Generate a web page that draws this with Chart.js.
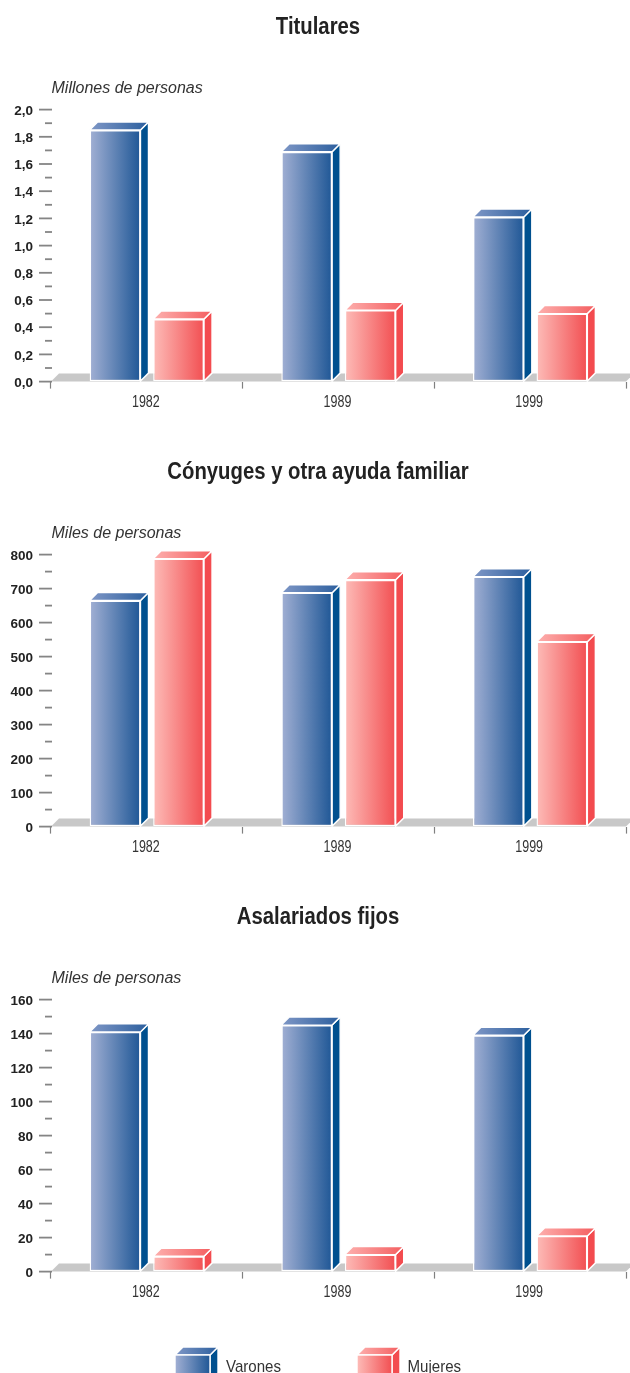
<!DOCTYPE html>
<html lang="es">
<head>
<meta charset="utf-8">
<title>Titulares, cónyuges y asalariados</title>
<style>
html,body{margin:0;padding:0;background:#fff;overflow:hidden;width:630px;height:1373px}
.p{position:absolute;left:0;display:block}
</style>
<script src="https://cdn.jsdelivr.net/npm/chart.js@4/dist/chart.umd.min.js"></script>
</head>
<body>
<canvas class="p" id="c1" width="630" height="445" style="top:0;width:630px;height:445px"></canvas>
<canvas class="p" id="c2" width="630" height="445" style="top:445px;width:630px;height:445px"></canvas>
<canvas class="p" id="c3" width="630" height="483" style="top:890px;width:630px;height:483px"></canvas>
<script>
const categories = ['1982', '1989', '1999'];
const seriesNames = ['Varones', 'Mujeres'];

const titularesVarones = [1.85, 1.69, 1.21];
const titularesMujeres = [0.46, 0.525, 0.50];
const conyugesVarones = [665, 688, 735];
const conyugesMujeres = [788, 726, 544];
const asalariadosVarones = [141, 145, 139];
const asalariadosMujeres = [9, 10, 21];

const DX = 8, DY = 8;
const CAT_PCT = 0.663, BAR_PCT = 0.8;
const FONT = '"Liberation Sans", Arial, sans-serif';
const blue = {front: ['#a2b0d4', '#1f5796'], top: ['#7f97c6', '#2c5f9e'], side: '#00508f'};
const red  = {front: ['#fdbcb8', '#f24f52'], top: ['#fdb0ae', '#f45e60'], side: '#f34b4f'};
const palette = [blue, red];

function gradientFor(ctx, x0, x1, stops) {
  const g = ctx.createLinearGradient(x0, 0, x1, 0);
  g.addColorStop(0, stops[0]);
  g.addColorStop(1, stops[1]);
  return g;
}

function poly(ctx, pts, fill) {
  ctx.beginPath();
  pts.forEach((p, i) => i ? ctx.lineTo(p[0], p[1]) : ctx.moveTo(p[0], p[1]));
  ctx.closePath();
  ctx.fillStyle = fill;
  ctx.fill();
  ctx.strokeStyle = '#fff';
  ctx.lineWidth = 1.4;
  ctx.stroke();
}

function box3d(ctx, l, r, top, base, pal) {
  poly(ctx, [[r, top], [r + DX, top - DY], [r + DX, base - DY], [r, base]], pal.side);
  poly(ctx, [[l, top], [l + DX, top - DY], [r + DX, top - DY], [r, top]], gradientFor(ctx, l, r + DX, pal.top));
}

function narrowText(ctx, text, x, y, font, sx, align, color) {
  ctx.save();
  ctx.translate(x, y);
  ctx.scale(sx, 1);
  ctx.font = font;
  ctx.fillStyle = color;
  ctx.textAlign = align;
  ctx.textBaseline = 'alphabetic';
  ctx.fillText(text, 0, 0);
  ctx.restore();
}

const depthPlugin = {
  id: 'depth',
  beforeDatasetsDraw(chart) {
    const ctx = chart.ctx, a = chart.chartArea, y0 = chart.scales.y.getPixelForValue(0);
    ctx.save();
    ctx.fillStyle = '#c8c8c8';
    ctx.beginPath();
    ctx.moveTo(a.left, y0);
    ctx.lineTo(a.left + DX, y0 - DY);
    ctx.lineTo(a.right + DX, y0 - DY);
    ctx.lineTo(a.right, y0);
    ctx.closePath();
    ctx.fill();
    chart.data.datasets.forEach((d, di) => {
      chart.getDatasetMeta(di).data.forEach(b => {
        box3d(ctx, b.x - b.width / 2, b.x + b.width / 2, b.y, b.base, palette[di]);
      });
    });
    ctx.restore();
  },
  afterDraw(chart) {
    const ctx = chart.ctx, s = chart.scales.y, a = chart.chartArea, xs = chart.scales.x;
    ctx.save();
    ctx.strokeStyle = '#858585';
    ctx.lineWidth = 1.8;
    s.ticks.forEach((t, i) => {
      const y = s.getPixelForTick(i);
      ctx.beginPath();
      ctx.moveTo(a.left - (i % 2 ? 6 : 12), y);
      ctx.lineTo(a.left + 1, y);
      ctx.stroke();
    });
    ctx.restore();
    const o = chart.options.plugins.depth;
    narrowText(ctx, o.unit, 51.5, 93, 'italic 16px ' + FONT, 1, 'left', '#333');
    narrowText(ctx, o.heading, 318, 34, 'bold 23px ' + FONT, 0.883, 'center', '#222');
    categories.forEach((c, i) => {
      narrowText(ctx, c, xs.getPixelForValue(i) - 1, a.bottom + 25.5, '16px ' + FONT, 0.78, 'center', '#333');
    });
  }
};

const legendPlugin = {
  id: 'legend3d',
  afterDraw(chart) {
    const o = chart.options.plugins.legend3d;
    if (!o || !o.show) return;
    const ctx = chart.ctx;
    ctx.save();
    const top = 1355 - 890, base = 1373 - 890 + 8;
    [175, 357].forEach((l, i) => {
      const r = l + 35;
      box3d(ctx, l, r, top, base, palette[i]);
      ctx.fillStyle = gradientFor(ctx, l, r, palette[i].front);
      ctx.fillRect(l, top, 35, base - top);
      ctx.strokeStyle = '#fff';
      ctx.lineWidth = 1.4;
      ctx.strokeRect(l, top, 35, base - top);
      narrowText(ctx, chart.data.datasets[i].label, [226, 407.5][i], 1372.3 - 890, '17px ' + FONT, 0.887, 'left', '#333');
    });
    ctx.restore();
  }
};

function barFill(di) {
  return c => {
    const s = c.chart.scales.x;
    if (!s || !c.chart.chartArea || c.dataIndex === undefined) return palette[di].side;
    const cw = s.width / categories.length;
    const chunk = cw * CAT_PCT / 2, w = chunk * BAR_PCT;
    const cx = s.getPixelForValue(c.dataIndex) + (di - 1) * chunk + chunk / 2;
    return gradientFor(c.chart.ctx, cx - w / 2, cx + w / 2, palette[di].front);
  };
}

function makeChart(id, title, unit, v, m, maxV, step, fmt, xHeight, showLegend) {
  return new Chart(document.getElementById(id), {
    type: 'bar',
    data: {
      labels: categories,
      datasets: [
        {label: seriesNames[0], data: v, backgroundColor: barFill(0)},
        {label: seriesNames[1], data: m, backgroundColor: barFill(1)}
      ]
    },
    plugins: [depthPlugin, legendPlugin],
    options: {
      responsive: false,
      animation: false,
      layout: {padding: {left: 9, right: 4, top: 109.6, bottom: 0}},
      datasets: {bar: {categoryPercentage: CAT_PCT, barPercentage: BAR_PCT, borderColor: '#fff', borderWidth: 1.4, borderSkipped: false}},
      plugins: {
        legend: {display: false},
        tooltip: {enabled: false},
        title: {display: false},
        depth: {unit, heading: title},
        legend3d: {show: showLegend}
      },
      scales: {
        x: {
          afterFit(s) { s.height = xHeight; },
          border: {display: false},
          grid: {offset: true, drawOnChartArea: false, drawTicks: true, tickLength: 7, tickColor: '#808080', tickWidth: 1.2},
          ticks: {display: false}
        },
        y: {
          min: 0, max: maxV,
          afterFit(s) { s.width = 42; },
          border: {display: false},
          grid: {drawOnChartArea: false, drawTicks: false},
          ticks: {
            stepSize: step, autoSkip: false, padding: 18, color: '#222', labelOffset: 1.5,
            font: {family: FONT, size: 13.5, weight: 'bold'},
            callback(val, i) { return i % 2 ? '' : fmt(val); }
          }
        }
      }
    }
  });
}

const comma = v => v.toFixed(1).replace('.', ',');
const plain = v => String(Math.round(v));
makeChart('c1', 'Titulares', 'Millones de personas', titularesVarones, titularesMujeres, 2, 0.1, comma, 63.4, false);
makeChart('c2', 'Cónyuges y otra ayuda familiar', 'Miles de personas', conyugesVarones, conyugesMujeres, 800, 50, plain, 63.4, false);
makeChart('c3', 'Asalariados fijos', 'Miles de personas', asalariadosVarones, asalariadosMujeres, 160, 10, plain, 101.4, true);
</script>
</body>
</html>
